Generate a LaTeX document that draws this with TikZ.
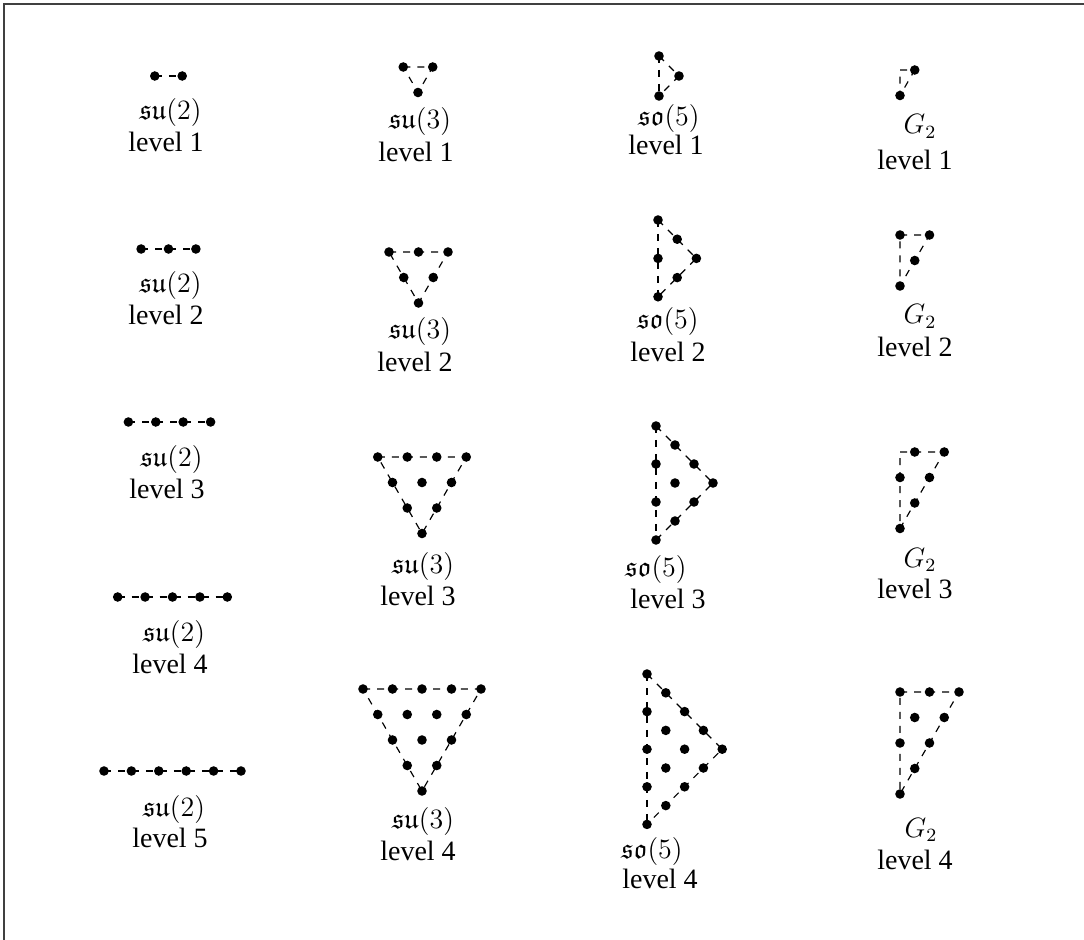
\documentclass[tikz,border=0pt]{standalone}
\usepackage{amssymb}
\usepackage[no-math]{fontspec}
\setmainfont{Liberation Serif}
\tikzset{
  dot/.style={circle,fill=black,inner sep=0pt,minimum size=4.1pt},
  edge/.style={dashed,line width=0.5pt},
  lab/.style={anchor=base,inner sep=0pt,font=\fontsize{12}{14}\selectfont},
  frame/.style={line width=0.85pt,black!75},
}
\begin{document}
\begin{tikzpicture}[x=0.4286pt,y=-0.4286pt]
\useasboundingbox (0,0) rectangle (1084,940);
% frame
\coordinate (fbl) at (4,940);
\coordinate (ftl) at (4,4);
\coordinate (ftr) at (1084,4);
\draw[frame] (fbl) -- (ftl) -- (ftr);
% su(2)
\foreach \k/\cx/\cy in {1/168.5/76, 2/168.5/249, 3/169.5/422, 4/172.5/597, 5/172.5/771}{
  \foreach \i in {0,...,\k}{
    \node[dot] (a\k-\i) at ({\cx+(\i-\k/2)*27.4},\cy) {};
  }
  \draw[edge] (a\k-0.center) -- (a\k-\k.center);
}
% su(3)
\foreach \k/\cx/\cy in {1/418/67, 2/418.5/252, 3/422/457, 4/422/689}{
  \foreach \r in {0,...,\k}{
    \pgfmathtruncatemacro\n{\k-\r}
    \foreach \i in {0,...,\n}{
      \node[dot] (b\k-\r-\i) at ({\cx+(\i-\n/2)*29.5},{\cy+\r*25.5}) {};
    }
  }
  \draw[edge] (b\k-0-0.center) -- (b\k-0-\k.center) -- (b\k-\k-0.center) -- cycle;
}
% so(5)
\foreach \k/\ox/\oy/\d in {1/659/56/20, 2/658/220/19.2, 3/656/426/19, 4/647/674/18.8}{
  \foreach \i in {0,...,\k}{
    \pgfmathtruncatemacro\n{\k-\i}
    \foreach \m in {0,...,\n}{
      \node[dot] (c\k-\i-\m) at ({\ox+\i*\d},{\oy+(\i+2*\m)*\d}) {};
    }
  }
  \draw[edge] (c\k-0-0.center) -- (c\k-0-\k.center);
  \draw[edge] (c\k-0-0.center) -- (c\k-\k-0.center) -- (c\k-0-\k.center);
}
% G2
\foreach \k/\cy in {1/70, 2/235, 3/452, 4/692}{
  \coordinate (g\k-o) at (900,\cy);
  \foreach \s in {0,...,\k}{
    \pgfmathtruncatemacro\pp{mod(\k-\s,2)}
    \ifnum\pp=0
      \foreach \c in {0,...,\s}{
        \pgfmathtruncatemacro\rr{\s-\c}
        \node[dot] (g\k-\c-\rr) at ({900+\c*14.75},{\cy+\rr*25.5}) {};
      }
    \fi
  }
  \draw[edge] (g\k-o) -- (g\k-\k-0.center) -- (g\k-0-\k.center) -- cycle;
}
% labels su(2)
\node[lab] (la1) at (170.5,120) {$\mathfrak{su}(2)$};
\node[lab] (lb1) at (166,152) {level 1};
\node[lab] (la2) at (170.5,293) {$\mathfrak{su}(2)$};
\node[lab] (lb2) at (166,325) {level 2};
\node[lab] (la3) at (171.5,466) {$\mathfrak{su}(2)$};
\node[lab] (lb3) at (167,498) {level 3};
\node[lab] (la4) at (174,641) {$\mathfrak{su}(2)$};
\node[lab] (lb4) at (170,673) {level 4};
\node[lab] (la5) at (174,816) {$\mathfrak{su}(2)$};
\node[lab] (lb5) at (170,847) {level 5};
% labels su(3)
\node[lab] (lc1) at (420,129) {$\mathfrak{su}(3)$};
\node[lab] (ld1) at (416,162) {level 1};
\node[lab] (lc2) at (420,339) {$\mathfrak{su}(3)$};
\node[lab] (ld2) at (415,372) {level 2};
\node[lab] (lc3) at (423,573) {$\mathfrak{su}(3)$};
\node[lab] (ld3) at (418,605) {level 3};
\node[lab] (lc4) at (423,828) {$\mathfrak{su}(3)$};
\node[lab] (ld4) at (418,860) {level 4};
% labels so(5)
\node[lab] (le1) at (669,126) {$\mathfrak{so}(5)$};
\node[lab] (lf1) at (666,155) {level 1};
\node[lab] (le2) at (668,329) {$\mathfrak{so}(5)$};
\node[lab] (lf2) at (668,362) {level 2};
\node[lab] (le3) at (656,576) {$\mathfrak{so}(5)$};
\node[lab] (lf3) at (668,608) {level 3};
\node[lab] (le4) at (652,858) {$\mathfrak{so}(5)$};
\node[lab] (lf4) at (660,888) {level 4};
% labels G2
\node[lab] (lg1) at (920,134) {$G_2$};
\node[lab] (lh1) at (915,170) {level 1};
\node[lab] (lg2) at (920,324) {$G_2$};
\node[lab] (lh2) at (915,357) {level 2};
\node[lab] (lg3) at (920,567) {$G_2$};
\node[lab] (lh3) at (915,598) {level 3};
\node[lab] (lg4) at (921,837) {$G_2$};
\node[lab] (lh4) at (915,869) {level 4};
\end{tikzpicture}
\end{document}
